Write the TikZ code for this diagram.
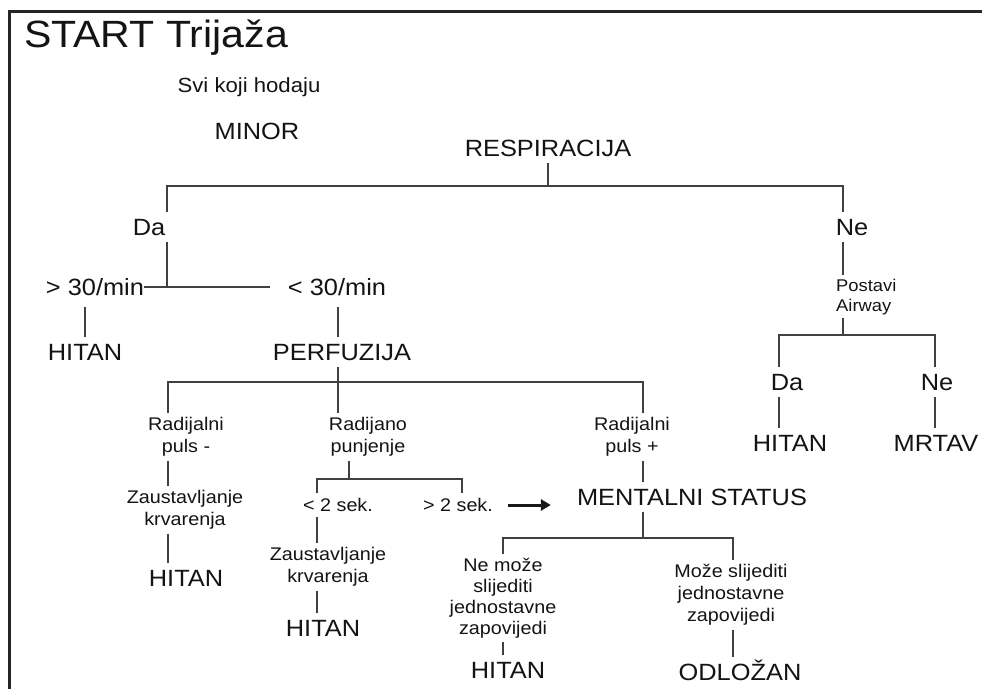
\documentclass[tikz,border=0pt]{standalone}
\usepackage{fontspec}
\setmainfont[FakeStretch=1.08]{Liberation Sans}
\usetikzlibrary{arrows.meta}
\begin{document}
\begin{tikzpicture}[x=1pt,y=-1pt,
  every node/.style={text=black!92},
  big/.style={font=\fontsize{23.5}{27}\selectfont, inner xsep=0pt, inner ysep=6pt, text height=17pt, text depth=0pt},
  bigd/.style={big, text depth=5pt},
  smalls/.style={font=\fontsize{18.3}{22}\selectfont, inner xsep=0pt, inner ysep=5pt, text height=13pt, text depth=0pt},
  smallm/.style={font=\fontsize{18.3}{22}\selectfont, inner xsep=0pt, inner ysep=4pt, align=center},
  smallt/.style={font=\fontsize{18.3}{21}\selectfont, inner xsep=0pt, inner ysep=4pt, align=center},
  tiny/.style={font=\fontsize{17}{20}\selectfont, inner xsep=0pt, inner ysep=3pt, align=left},
  conn/.style={draw=black!75, line width=1.9pt},
  bigarrow/.style={draw=black!90, line width=3pt, -{Triangle[length=10pt,width=11pt]}},
  frame/.style={draw=black!85, line width=3.5pt}
]
\useasboundingbox (0,0) rectangle (982,689);
\fill[white] (0,0) rectangle (982,689);
\draw[frame] (9.7,689) -- (9.7,11.7) -- (982,11.7);

% title and header texts
\node[anchor=base west, inner sep=0pt, font=\fontsize{38}{42}\selectfont] (title) at (24,47) {START Trijaža};
\node[font=\fontsize{20.5}{24}\selectfont, inner sep=0pt] (svi) at (249,87) {Svi koji hodaju};
\node[big] (minor) at (257,131) {MINOR};

% respiration level
\node[big] (resp) at (548,148) {RESPIRACIJA};
\coordinate (rL) at (167,186);
\coordinate (rR) at (843,186);
\node[big] (da1) at (149,227) {Da};
\node[big] (ne1) at (852,227) {Ne};
\draw[conn] (resp.south) -- (resp.south |- rL);
\draw[conn] (da1.north -| rL) -- (rL) -- (rR) -- (rR |- ne1.north);

% Da branch
\node[bigd] (gt30) at (95,289.5) {> 30/min};
\node[bigd] (lt30) at (337,289.5) {< 30/min};
\coordinate (dJ) at (167,287);
\draw[conn] (da1.south -| rL) -- (dJ);
\draw[conn] (gt30.east |- dJ) -- ([xshift=-18pt]lt30.west |- dJ);
\node[big] (h1) at (85,352) {HITAN};
\draw[conn] (gt30.south -| h1.north) -- (h1.north);
\node[big] (perf) at (342,352) {PERFUZIJA};
\coordinate (pJ) at (338,382);
\draw[conn] (lt30.south -| pJ) -- (perf.north -| pJ);

% perfusion level
\coordinate (pL) at (168,382);
\coordinate (pR) at (643,382);
\node[smallm] (rpm) at (186,437) {Radijalni\\puls -};
\node[smallm] (rpu) at (368,437) {Radijano\\punjenje};
\node[smallm] (rpp) at (632,437) {Radijalni\\puls +};
\draw[conn] (rpm.north -| pL) -- (pL) -- (pR) -- (pR |- rpp.north);
\draw[conn] (perf.south -| pJ) -- (rpu.north -| pJ);

% radial pulse minus
\node[smallm] (zk1) at (185,510) {Zaustavljanje\\krvarenja};
\node[big] (h2) at (186,578) {HITAN};
\draw[conn] (rpm.south -| pL) -- (zk1.north -| pL);
\draw[conn] (zk1.south -| pL) -- (h2.north -| pL);

% capillary refill
\coordinate (sJ) at (349,479);
\coordinate (sL) at (317,479);
\coordinate (sR) at (462,479);
\node[smalls] (lt2) at (338,505) {< 2 sek.};
\node[smalls] (gt2) at (458,505) {> 2 sek.};
\draw[conn] (rpu.south -| sJ) -- (sJ);
\draw[conn] (lt2.north -| sL) -- (sL) -- (sR) -- (sR |- gt2.north);
\node[smallm] (zk2) at (328,567) {Zaustavljanje\\krvarenja};
\node[big] (h3) at (323,628) {HITAN};
\draw[conn] (lt2.south -| sL) -- (zk2.north -| sL);
\draw[conn] (zk2.south -| sL) -- (h3.north -| sL);

% mental status
\node[big] (ms) at (692,497) {MENTALNI STATUS};
\draw[bigarrow] ([xshift=15pt]gt2.east) -- ([xshift=-26pt]ms.west |- gt2.east);
\draw[conn] (rpp.south -| pR) -- (ms.north -| pR);
\coordinate (mJ) at (643,538);
\coordinate (mL) at (503,538);
\coordinate (mR) at (733,538);
\node[smallt] (nm) at (503,598) {Ne može\\slijediti\\jednostavne\\zapovijedi};
\node[smallm] (mz) at (731,595) {Može slijediti\\jednostavne\\zapovijedi};
\draw[conn] (ms.south -| mJ) -- (mJ);
\draw[conn] (nm.north -| mL) -- (mL) -- (mR) -- (mR |- mz.north);
\node[big] (h4) at (508,670) {HITAN};
\node[big] (odl) at (740,672) {ODLOŽAN};
\draw[conn] (nm.south -| mL) -- (h4.north -| mL);
\draw[conn] (mz.south -| mR) -- (odl.north -| mR);

% Ne branch
\node[tiny, anchor=west] (pa) at (836,296.6) {Postavi\\Airway};
\coordinate (aJ) at (843,335);
\coordinate (aL) at (779,335);
\coordinate (aR) at (935,335);
\draw[conn] (ne1.south -| rR) -- (pa.north -| rR);
\draw[conn] (pa.south -| rR) -- (aJ);
\node[big] (da2) at (787,382) {Da};
\node[big] (ne2) at (937,382) {Ne};
\draw[conn] (da2.north -| aL) -- (aL) -- (aR) -- (aR |- ne2.north);
\node[big] (h5) at (790,443) {HITAN};
\node[big] (mrtav) at (936,443) {MRTAV};
\draw[conn] (da2.south -| aL) -- (h5.north -| aL);
\draw[conn] (ne2.south -| aR) -- (mrtav.north -| aR);
\end{tikzpicture}
\end{document}
